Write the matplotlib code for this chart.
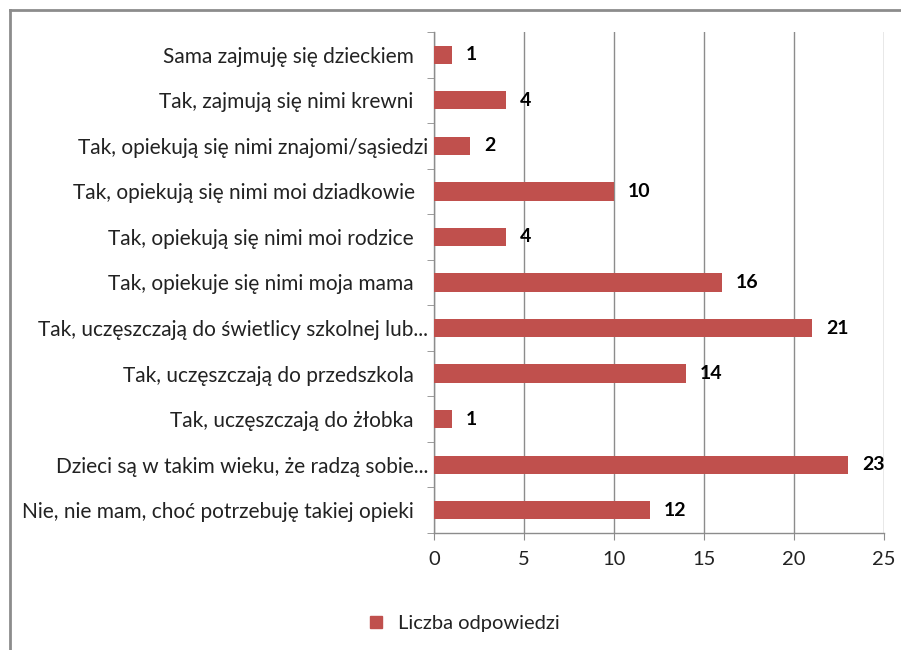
import matplotlib.pyplot as plt
from matplotlib.lines import Line2D
from matplotlib.transforms import ScaledTranslation
import numpy as np

plt.rcParams['font.family'] = ['Lato', 'DejaVu Sans']

# categories from bottom to top
categories = [
    'Nie, nie mam, choć potrzebuję takiej opieki',
    'Dzieci są w takim wieku, że radzą sobie...',
    'Tak, uczęszczają do żłobka',
    'Tak, uczęszczają do przedszkola',
    'Tak, uczęszczają do świetlicy szkolnej lub...',
    'Tak, opiekuje się nimi moja mama',
    'Tak, opiekują się nimi moi rodzice',
    'Tak, opiekują się nimi moi dziadkowie',
    'Tak, opiekują się nimi znajomi/sąsiedzi',
    'Tak, zajmują się nimi krewni',
    'Sama zajmuję się dzieckiem',
]
values = [12, 23, 1, 14, 21, 16, 4, 10, 2, 4, 1]
series_name = 'Liczba odpowiedzi'
xticks = [0, 5, 10, 15, 20, 25]

# extra left shift (px) for labels Excel padded with trailing spaces
label_shift = [15, 0, 15, 15, 0, 15, 15, 13, 0, 15, 15]

bar_color = '#C0504D'
grid_color = '#8C8C8C'
fs = 15

fig = plt.figure(figsize=(9.01, 6.5), dpi=100)
ax = fig.add_axes([434 / 901, 1 - 533 / 650, 450 / 901, 501 / 650])

y = np.arange(len(categories))
ax.barh(y, values, height=0.4, color=bar_color, zorder=3)

for yi, v in zip(y, values):
    ax.annotate(str(v), (v, yi), xytext=(10, 0), textcoords='offset points',
                va='center', ha='left', fontsize=14, fontweight='bold', color='black')

ax.set_xlim(0, 25)
ax.set_ylim(-0.5, len(categories) - 0.5)
ax.set_xticks(xticks)
ax.set_yticks(y)
ax.set_yticklabels(categories, fontsize=fs, color='#222222')
ax.set_yticks(np.arange(-0.5, len(categories), 1), minor=True)
ax.tick_params(axis='y', which='major', length=0, pad=4)
ax.tick_params(axis='y', which='minor', length=5, color=grid_color, direction='out')
ax.tick_params(axis='x', length=5, color=grid_color, labelsize=14.5, labelcolor='#222222', pad=8)

for lbl, s in zip(ax.get_yticklabels(), label_shift):
    lbl.set_transform(lbl.get_transform() + ScaledTranslation(-s / 100, 0, fig.dpi_scale_trans))

ax.grid(axis='x', color=grid_color, linewidth=1, zorder=0)
for side in ['top', 'right']:
    ax.spines[side].set_visible(False)
for side in ['left', 'bottom']:
    ax.spines[side].set_color(grid_color)
    ax.spines[side].set_linewidth(1)

# chart area frame (only left and top edges visible)
fig.add_artist(Line2D([10 / 901, 10 / 901], [0, 1 - 10 / 650], transform=fig.transFigure,
                      color='#8C8C8C', linewidth=2))
fig.add_artist(Line2D([10 / 901, 1], [1 - 10 / 650, 1 - 10 / 650], transform=fig.transFigure,
                      color='#8C8C8C', linewidth=2))

handle = Line2D([], [], marker='s', linestyle='none', markersize=9,
                markerfacecolor=bar_color, markeredgecolor=bar_color)
fig.legend([handle], [series_name], loc='center', bbox_to_anchor=(458 / 901, 1 - 623 / 650),
           frameon=False, fontsize=14.5, handletextpad=0.1, labelcolor='#222222')

fig.savefig('out.png', dpi=100)
